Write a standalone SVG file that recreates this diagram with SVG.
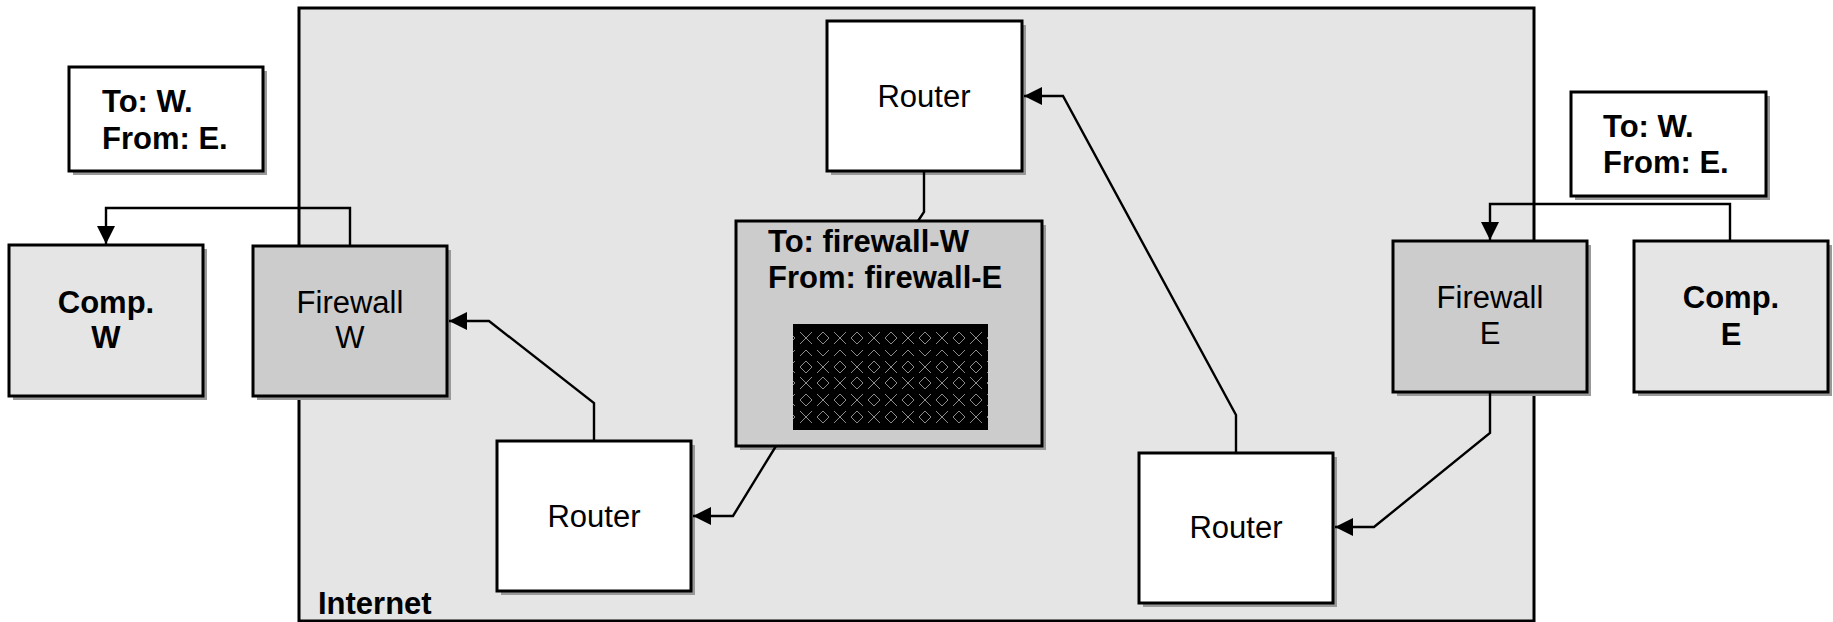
<svg xmlns="http://www.w3.org/2000/svg" width="1833" height="622" viewBox="0 0 1833 622">
  <style>
    .box { stroke: #000; stroke-width: 3; }
    .shadow { fill: #999; stroke: none; }
    .white { fill: #fff; }
    .light { fill: #e5e5e5; }
    .mid { fill: #cccccc; }
    .label { font-family: "Liberation Sans", Arial, sans-serif; font-size: 31px; fill: #000; }
    .bold { font-weight: bold; }
    .mid-anchor { text-anchor: middle; }
    .wire { fill: none; stroke: #000; stroke-width: 2.4; }
    .glyph { fill: none; stroke: #8c8c8c; stroke-width: 1; }
  </style>
  <defs>
    <marker id="arrow" markerWidth="19" markerHeight="18" refX="18" refY="9" orient="auto" markerUnits="userSpaceOnUse">
      <path d="M0,0 L18,9 L0,18 Z" fill="#000"/>
    </marker>
    <!-- texture inside the packet payload: rows of crosses and diamonds -->
    <pattern id="payload" patternUnits="userSpaceOnUse" x="797" y="324" width="34" height="106">
      <rect width="34" height="106" fill="#000"/>
      <g class="glyph">
        <path d="M3,8 L15,20 M15,8 L3,20"/>
        <path d="M26,8 L32,14 L26,20 L20,14 Z"/>
        <path d="M3,32 L9,26 L15,32"/>
        <path d="M20,26 L26,32 L32,26"/>
        <path d="M9,37 L15,43 L9,49 L3,43 Z"/>
        <path d="M20,37 L32,49 M32,37 L20,49"/>
        <path d="M3,53 L15,65 M15,53 L3,65"/>
        <path d="M26,53 L32,59 L26,65 L20,59 Z"/>
        <path d="M9,70 L15,76 L9,82 L3,76 Z"/>
        <path d="M20,70 L32,82 M32,70 L20,82"/>
        <path d="M3,87 L15,99 M15,87 L3,99"/>
        <path d="M26,87 L32,93 L26,99 L20,93 Z"/>
      </g>
    </pattern>
  </defs>

  <rect width="1833" height="622" fill="#fff"/>

  <!-- Internet cloud area -->
  <g id="internet">
    <rect class="box light" x="299" y="8" width="1235" height="613"/>
    <text class="label bold" x="318" y="614">Internet</text>
  </g>

  <!-- West side -->
  <g id="msg-west">
    <rect class="shadow" x="73" y="71" width="194" height="104"/>
    <rect class="box white" x="69" y="67" width="194" height="104"/>
    <text class="label bold" x="102" y="112">To: W.</text>
    <text class="label bold" x="102" y="149">From: E.</text>
  </g>
  <g id="comp-w">
    <rect class="shadow" x="13" y="249" width="194" height="151"/>
    <rect class="box light" x="9" y="245" width="194" height="151"/>
    <text class="label bold mid-anchor" x="106" y="313">Comp.</text>
    <text class="label bold mid-anchor" x="106" y="348">W</text>
  </g>
  <g id="firewall-w">
    <rect class="shadow" x="257" y="250" width="194" height="150"/>
    <rect class="box mid" x="253" y="246" width="194" height="150"/>
    <text class="label mid-anchor" x="350" y="313">Firewall</text>
    <text class="label mid-anchor" x="350" y="348">W</text>
  </g>

  <!-- Routers -->
  <g id="router-top">
    <rect class="shadow" x="831" y="25" width="195" height="150"/>
    <rect class="box white" x="827" y="21" width="195" height="150"/>
    <text class="label mid-anchor" x="924" y="107">Router</text>
  </g>
  <g id="router-sw">
    <rect class="shadow" x="501" y="445" width="194" height="150"/>
    <rect class="box white" x="497" y="441" width="194" height="150"/>
    <text class="label mid-anchor" x="594" y="527">Router</text>
  </g>
  <g id="router-se">
    <rect class="shadow" x="1143" y="457" width="194" height="150"/>
    <rect class="box white" x="1139" y="453" width="194" height="150"/>
    <text class="label mid-anchor" x="1236" y="538">Router</text>
  </g>

  <!-- Packet in transit -->
  <g id="packet">
    <rect class="shadow" x="740" y="225" width="306" height="225"/>
    <rect class="box mid" x="736" y="221" width="306" height="225"/>
    <text class="label bold" x="768" y="252">To: firewall-W</text>
    <text class="label bold" x="768" y="288">From: firewall-E</text>
    <rect x="793" y="324" width="195" height="106" fill="url(#payload)"/>
  </g>

  <!-- East side -->
  <g id="msg-east">
    <rect class="shadow" x="1575" y="96" width="195" height="104"/>
    <rect class="box white" x="1571" y="92" width="195" height="104"/>
    <text class="label bold" x="1603" y="137">To: W.</text>
    <text class="label bold" x="1603" y="173">From: E.</text>
  </g>
  <g id="firewall-e">
    <rect class="shadow" x="1397" y="245" width="194" height="151"/>
    <rect class="box mid" x="1393" y="241" width="194" height="151"/>
    <text class="label mid-anchor" x="1490" y="308">Firewall</text>
    <text class="label mid-anchor" x="1490" y="344">E</text>
  </g>
  <g id="comp-e">
    <rect class="shadow" x="1638" y="245" width="194" height="151"/>
    <rect class="box light" x="1634" y="241" width="194" height="151"/>
    <text class="label bold mid-anchor" x="1731" y="308">Comp.</text>
    <text class="label bold mid-anchor" x="1731" y="345">E</text>
  </g>

  <!-- Connectors -->
  <g id="connectors">
    <path class="wire" d="M350,246 V208 H106 V244" marker-end="url(#arrow)"/>
    <path class="wire" d="M1730,241 V204 H1490 V240" marker-end="url(#arrow)"/>
    <path class="wire" d="M594,441 V403 L489,321 H449" marker-end="url(#arrow)"/>
    <path class="wire" d="M776,446 L733,516 H693" marker-end="url(#arrow)"/>
    <path class="wire" d="M1236,453 V415 L1063,96 H1024" marker-end="url(#arrow)"/>
    <path class="wire" d="M1490,392 V433 L1374,527 H1335" marker-end="url(#arrow)"/>
    <path class="wire" d="M924,171 V212 L918,221"/>
  </g>
</svg>
